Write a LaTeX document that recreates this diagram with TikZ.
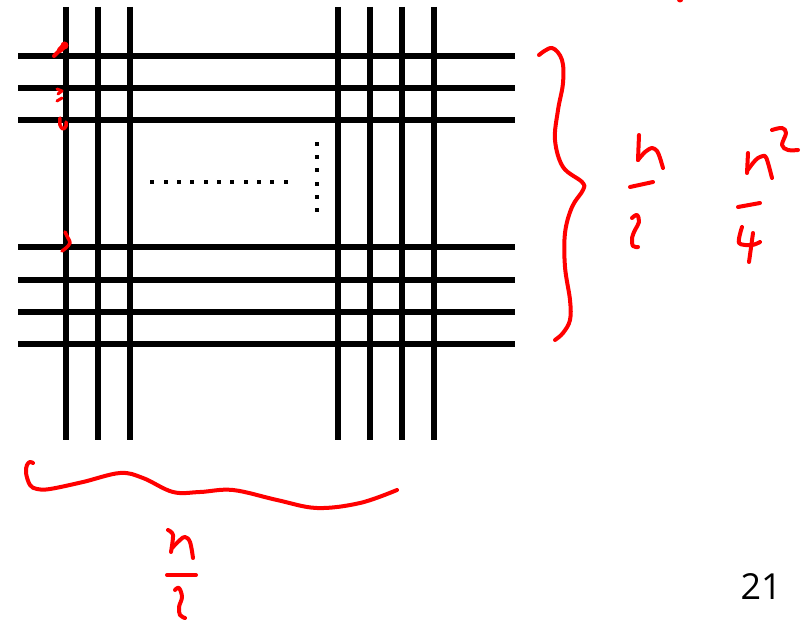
\documentclass[tikz,border=0pt]{standalone}
\usepackage{fontspec}
\newfontfamily\pagefont{Open Sans}
\begin{document}
\begin{tikzpicture}[x=1bp,y=-1bp,
  gridline/.style={line width=6bp,black},
  ink/.style={draw=red,line width=4bp,line cap=round,line join=round},
  dotsq/.style={fill=black}]
\useasboundingbox (0,0) rectangle (805,620);
% vertical lines
\foreach \x in {66,98,130,338,370,402,434}
  \draw[gridline] (\x,7) -- (\x,440);
% horizontal lines
\foreach \y in {56,88,120,247,280,312,344}
  \draw[gridline] (18,\y) -- (515,\y);
% dotted ellipses
\foreach \i in {0,...,10}
  \fill[dotsq] ({152.3+13.33*\i-2},180) rectangle ++(4,4);
\foreach \j in {0,...,5}
  \fill[dotsq] (315,{144+13.2*\j-2}) rectangle ++(4,4);
% red marks on the left
\draw[ink,line width=4bp] (54,56) -- (62,48);
\draw[ink,line width=6bp] (60,50) -- (65,45);
\fill[red] (64.5,45.5) circle (4bp);
\draw[ink,line width=3bp] (57,89) -- (62,91) -- (58,94);
\draw[ink,line width=3bp] (57,101) -- (62,98);
\draw[ink,line width=3.5bp] plot[smooth,tension=0.6] coordinates {(60,118) (60,125) (63,129) (66,126) (66,122)};
\draw[ink,line width=3.5bp] plot[smooth,tension=0.6] coordinates {(65,232) (68,238) (70,243) (66,248) (62,251)};
% tiny red mark at the top
\fill[red] (680,0) ellipse (3bp and 2.5bp);
% right brace
\draw[ink] plot[smooth,tension=0.6] coordinates {(539,55) (552,48) (562,60) (563,83) (558,110) (555,140) (563,167) (582,182) (583,190) (572,207) (565,233) (565,267) (570,300) (570,320) (563,333) (555,340)};
% n/2 right
\draw[ink] (639,135) -- (638,160);
\draw[ink] plot[smooth,tension=0.5] coordinates {(638,160) (645,152) (652,148) (657,151) (660,158) (663,168)};
\draw[ink] (630,187) -- (653,182);
\draw[ink] plot[smooth,tension=0.6] coordinates {(632,218) (637,215) (639,222) (635,230) (632,238) (633,246) (638,247)};
% n^2/4
\draw[ink] (748,153) -- (747,173);
\draw[ink] plot[smooth,tension=0.5] coordinates {(747,171) (753,163) (758,158) (765,156) (768,163) (772,178)};
\draw[ink] plot[smooth,tension=0.6] coordinates {(772,130) (782,128) (786,133) (782,145) (788,150) (798,150)};
\draw[ink] (738,207) -- (760,203);
\draw[ink] plot[smooth,tension=0.5] coordinates {(742,227) (739,243) (752,245) (760,242)};
\draw[ink] (753,233) -- (749,262);
% bottom brace
\draw[ink] plot[smooth,tension=0.6] coordinates {(33,463) (30,462) (27,465) (26,473) (30,485) (37,489) (50,489) (83,482) (120,473) (143,478) (173,492) (200,492) (233,490) (277,500) (317,508) (360,503) (397,490)};
% n/2 bottom
\draw[ink] plot[smooth,tension=0.5] coordinates {(168,530) (173,535) (171,552)};
\draw[ink] plot[smooth,tension=0.6] coordinates {(172,548) (180,540) (185,537) (190,542) (193,558)};
\draw[ink] (167,575) -- (196,575);
\draw[ink] plot[smooth,tension=0.6] coordinates {(175,590) (179,588) (182,597) (179,607) (180,615) (185,618)};
% page number
\node[anchor=base,inner sep=0pt,font=\pagefont\fontsize{36}{40}\selectfont] (pagenum) at (761,599) {21};
\end{tikzpicture}
\end{document}
